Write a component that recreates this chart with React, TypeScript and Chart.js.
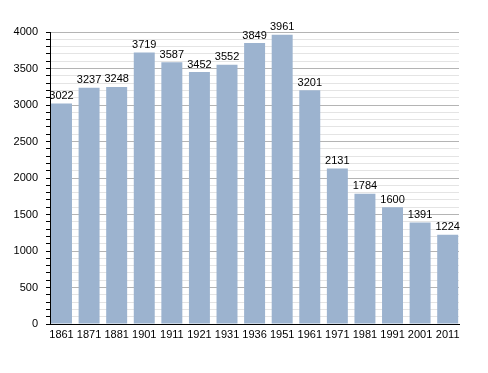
import React, { useEffect, useRef } from "react";
import { Chart, registerables } from "chart.js";

Chart.register(...registerables);

const years = ["1861", "1871", "1881", "1901", "1911", "1921", "1931", "1936", "1951", "1961", "1971", "1981", "1991", "2001", "2011"];
const population = [3022, 3237, 3248, 3719, 3587, 3452, 3552, 3849, 3961, 3201, 2131, 1784, 1600, 1391, 1224];

const FONT = "'Liberation Sans', Arial, sans-serif";

const valueLabels = {
  id: "valueLabels",
  afterDatasetsDraw(chart: any) {
    const ctx = chart.ctx;
    const meta = chart.getDatasetMeta(0);
    ctx.save();
    ctx.font = `11px ${FONT}`;
    ctx.fillStyle = "#000";
    ctx.textAlign = "center";
    ctx.textBaseline = "bottom";
    meta.data.forEach((bar: any, i: number) => {
      ctx.fillText(String(population[i]), bar.x, bar.y - 2);
    });
    ctx.restore();
  },
};

export default function App() {
  const ref = useRef<HTMLCanvasElement>(null);
  useEffect(() => {
    const chart = new Chart(ref.current!, {
      type: "bar",
      data: {
        datasets: [
          {
            data: population.map((v, i) => ({ x: i, y: v })),
            backgroundColor: "#9cb3cf",
            borderWidth: 0,
            barPercentage: 0.76,
            categoryPercentage: 1,
          },
        ],
      },
      options: {
        responsive: false,
        animation: false,
        layout: { padding: { left: 0, top: 32, right: 29, bottom: 0 } },
        plugins: { legend: { display: false }, tooltip: { enabled: false } },
        scales: {
          x: {
            type: "linear",
            min: -0.417,
            max: 14.41,
            offset: false,
            grid: { display: false, drawTicks: false },
            border: { color: "#000", width: 1 },
            ticks: {
              color: "#000",
              font: { size: 11, family: FONT },
              padding: 4,
              maxRotation: 0,
              autoSkip: false,
              callback: (v: any) => {
                const i = Math.round(Number(v));
                return Math.abs(Number(v) - i) < 1e-6 && years[i] ? years[i] : "";
              },
            },
            afterBuildTicks: (s: any) => {
              s.ticks = years.map((_, i) => ({ value: i }));
            },
            afterFit: (s: any) => { s.height = 49; },
          },
          y: {
            min: 0,
            max: 4000,
            grid: {
              color: (c: any) => (c.tick && c.tick.value % 500 === 0 ? "#b4b4b4" : "#e4e4e4"),
              tickColor: "#000",
              tickLength: 4,
            },
            border: { color: "#000", width: 1 },
            ticks: {
              stepSize: 100,
              autoSkip: false,
              color: "#000",
              font: { size: 11, family: FONT },
              padding: 8,
              callback: (v: any) => (Number(v) % 500 === 0 ? String(v) : ""),
            },
            afterFit: (s: any) => { s.width = 50; },
          },
        },
      },
      plugins: [valueLabels],
    });
    return () => chart.destroy();
  }, []);
  return (
    <div style={{ position: "absolute", left: 0, top: 0, width: 488, height: 373, background: "#fff" }}>
      <canvas ref={ref} width={488} height={373} />
    </div>
  );
}
